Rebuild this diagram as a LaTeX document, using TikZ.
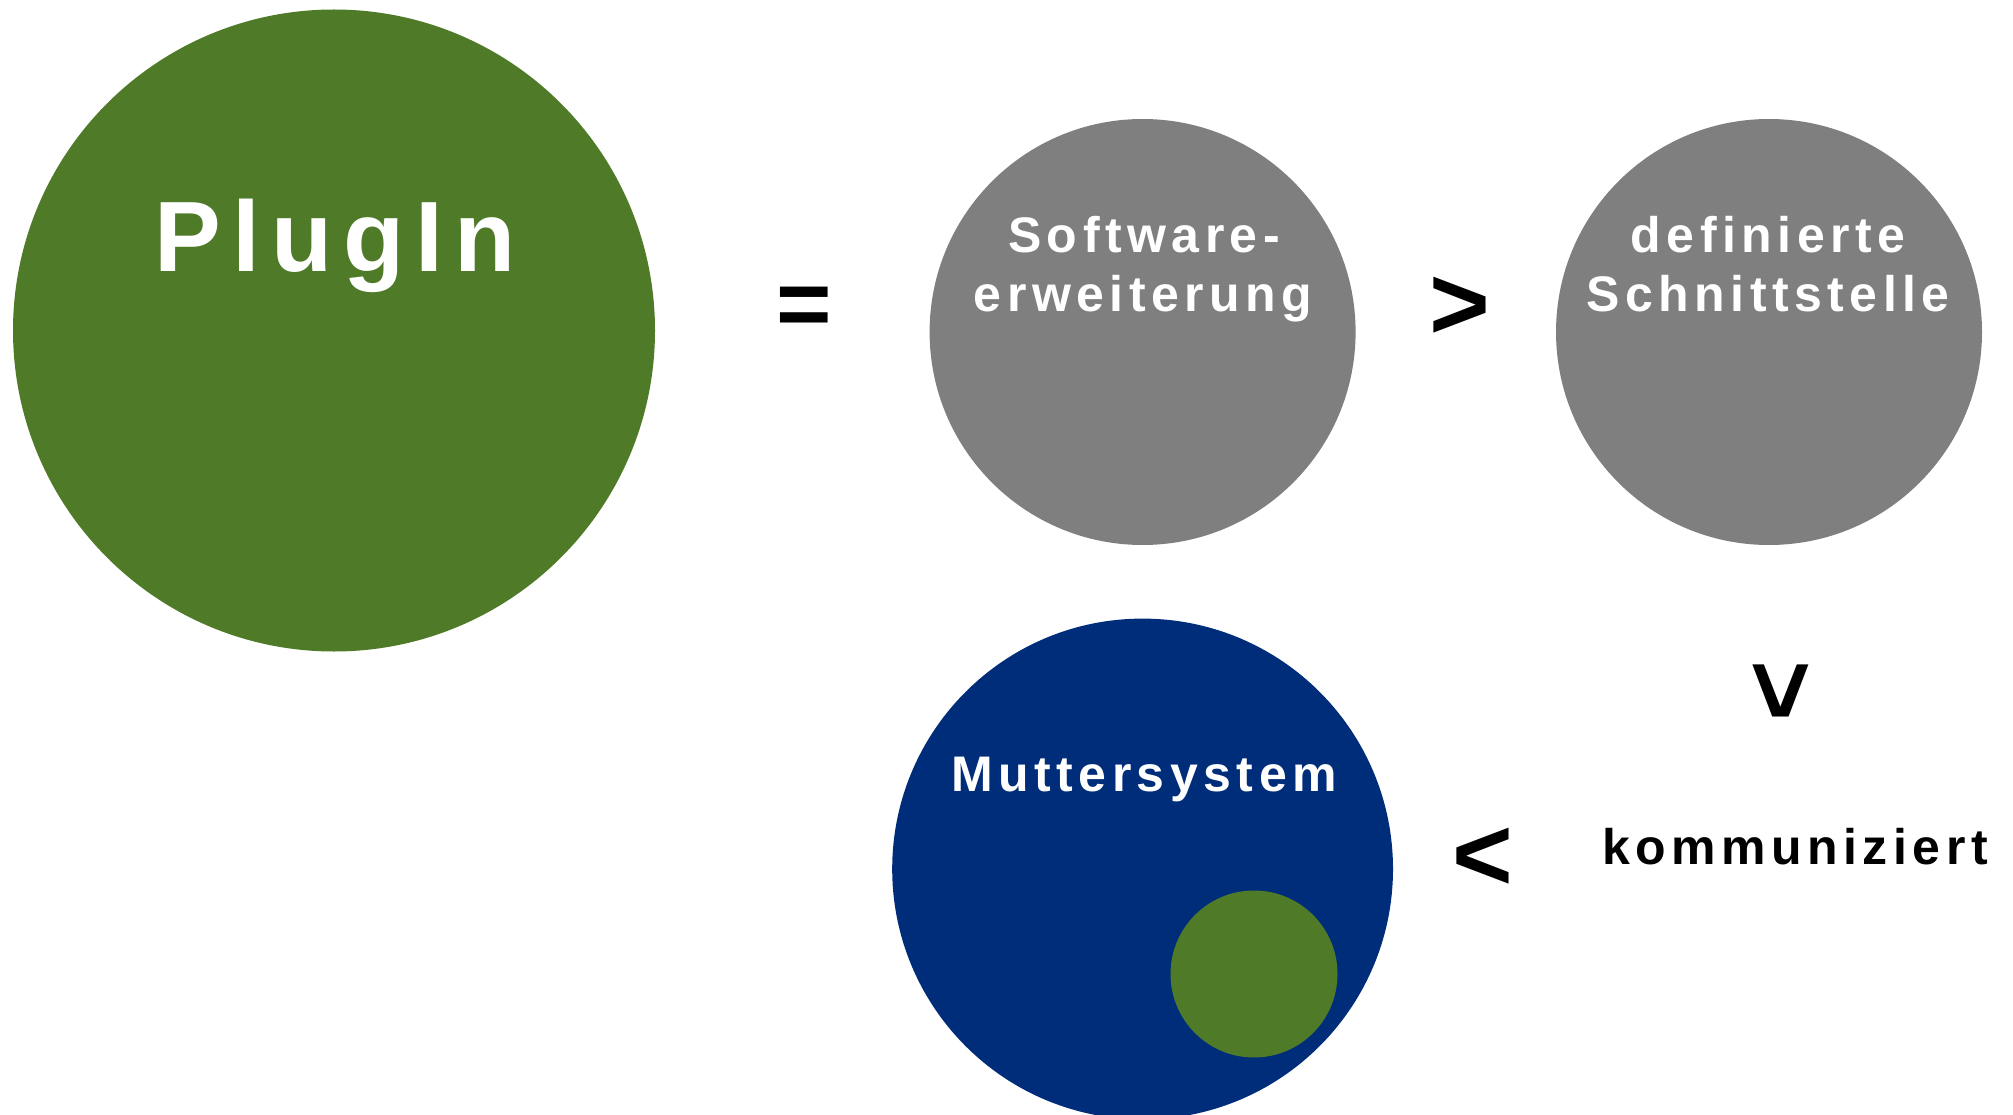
\documentclass[tikz,border=0pt]{standalone}
\usepackage{fontspec}
\setmainfont{Liberation Sans}[LetterSpace=11]
\newfontfamily\symfont{Liberation Sans}
\definecolor{pgreen}{RGB}{79,122,40}
\definecolor{pgray}{RGB}{127,127,127}
\definecolor{pblue}{RGB}{0,45,122}
\tikzset{
  bubble/.style={circle, inner sep=0pt, minimum size=#1},
  wlabel/.style={text=white, font=\bfseries\fontsize{50}{59}\selectfont, align=center, inner sep=0pt},
  blabel/.style={text=black, font=\bfseries\fontsize{50}{59}\selectfont, inner sep=0pt},
  relsym/.style={text=black, font=\symfont\bfseries\fontsize{104}{104}\selectfont, inner sep=0pt}
}
\begin{document}
\begin{tikzpicture}[x=1pt,y=-1pt]
\fill[white] (0,0) rectangle (2013,1115);
\useasboundingbox (0,0) rectangle (2013,1115);
\begin{scope}
\clip (0,0) rectangle (2013,1115);
\fill[pgreen] (334,330.5) circle[radius=321];
\fill[pgray] (1142.6,332) circle[radius=213];
\fill[pgray] (1769,332) circle[radius=213];
\fill[pblue] (1142.6,869) circle[radius=250.4];
\fill[pgreen] (1254,974) circle[radius=83.5];
\end{scope}
\node[bubble=642pt] (plugin) at (334,330.5) {};
\node[bubble=426pt] (sw) at (1142.6,332) {};
\node[bubble=426pt] (ds) at (1769,332) {};
\node[bubble=501pt] (ms) at (1142.6,869) {};
\node[bubble=167pt] (inner) at (1254,974) {};
\node[wlabel, font=\bfseries\fontsize{100}{110}\selectfont, anchor=base] (tplugin) at (335,272) {PlugIn};
\node[wlabel, anchor=base] (tsw1) at (1144,253) {Software-};
\node[wlabel, anchor=base] (tsw2) at (1143,312) {erweiterung};
\node[wlabel, anchor=base] (tds1) at (1768,253) {definierte};
\node[wlabel, anchor=base] (tds2) at (1768,312) {Schnittstelle};
\node[wlabel, anchor=base] (tms) at (1144,791) {Muttersystem};
\node[blabel, anchor=base] (tkom) at (1795,864) {kommuniziert};
\node[relsym, anchor=base, font=\symfont\bfseries\fontsize{95}{95}\selectfont] (eq) at (804,336) {=};
\node[relsym, anchor=base] (gt) at (1460,339) {>};
\node[relsym, rotate=-90] (vsym) at (1778,691) {>};
\node[relsym] (lt) at (1483,859) {<};
\end{tikzpicture}
\end{document}
